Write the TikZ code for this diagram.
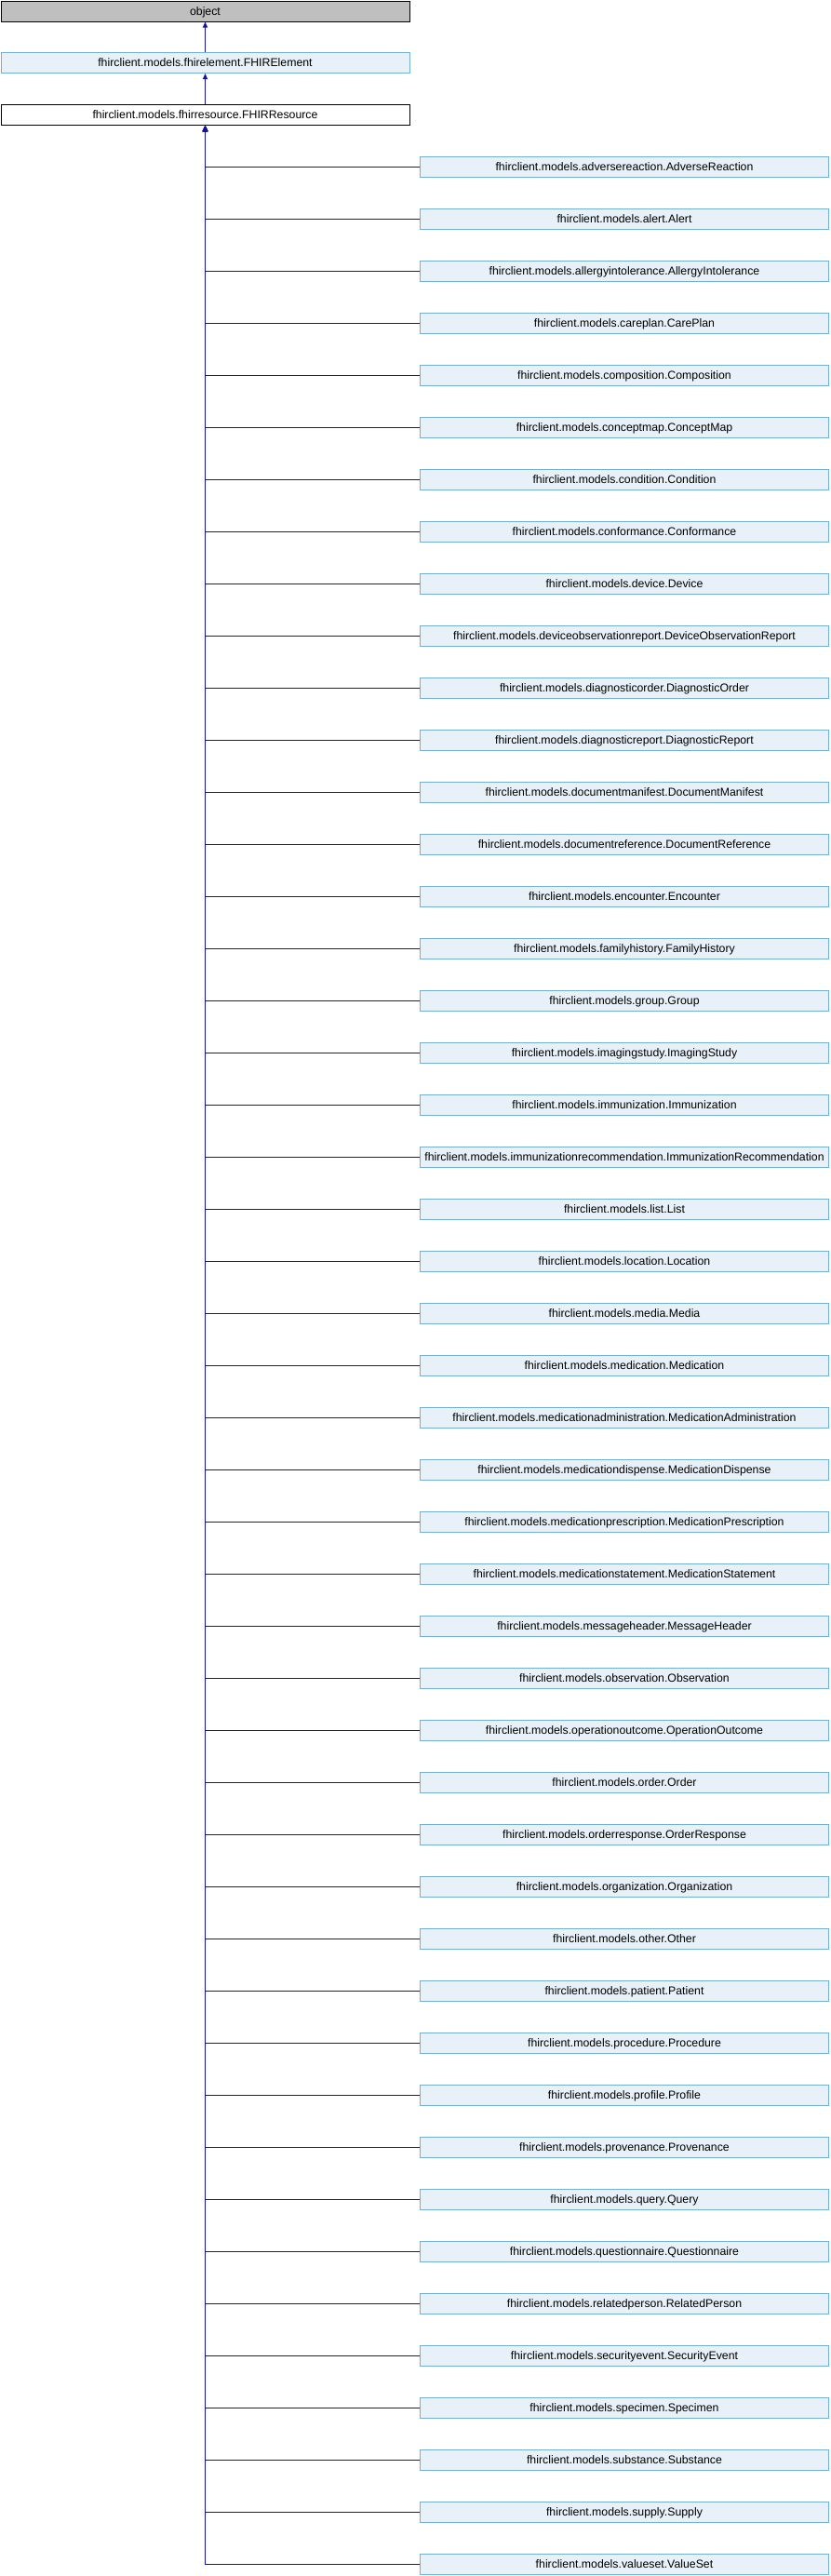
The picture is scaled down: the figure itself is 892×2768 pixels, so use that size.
\documentclass[tikz,border=0pt]{standalone}
\usepackage{fontspec}
\setmainfont{Liberation Sans}
\usetikzlibrary{arrows.meta}
\definecolor{edgeblue}{RGB}{20,20,150}
\definecolor{docfill}{RGB}{232,241,248}
\definecolor{docline}{RGB}{115,175,215}
\definecolor{focusfill}{RGB}{191,191,191}
\begin{document}
\begin{tikzpicture}[x=1pt,y=-1pt,
  cls/.style={rectangle, minimum width=439pt, minimum height=22pt, inner sep=0pt,
    line width=1pt, font=\fontsize{12.3}{14}\selectfont, text height=8.8pt, text depth=0pt},
  focus/.style={cls, draw=black, fill=focusfill},
  plain/.style={cls, draw=black, fill=white},
  doc/.style={cls, draw=docline, fill=docfill},
  edge/.style={draw=edgeblue, line width=1.1pt, -{Triangle[length=6pt,width=5pt]}}]
\useasboundingbox (0,0) rectangle (892,2768);
\node[focus] (obj) at (220.5,12) {object};
\node[doc] (fe) at (220.5,67.5) {fhirclient.models.fhirelement.FHIRElement};
\node[plain] (fr) at (220.5,123.5) {fhirclient.models.fhirresource.FHIRResource};
\draw[edge] (fe.north) -- (obj.south);
\draw[edge] (fr.north) -- (fe.south);
\foreach \m [count=\i from 0] in {adversereaction.AdverseReaction, alert.Alert,
  allergyintolerance.AllergyIntolerance, careplan.CarePlan, composition.Composition,
  conceptmap.ConceptMap, condition.Condition, conformance.Conformance, device.Device,
  deviceobservationreport.DeviceObservationReport, diagnosticorder.DiagnosticOrder,
  diagnosticreport.DiagnosticReport, documentmanifest.DocumentManifest,
  documentreference.DocumentReference, encounter.Encounter, familyhistory.FamilyHistory,
  group.Group, imagingstudy.ImagingStudy, immunization.Immunization,
  immunizationrecommendation.ImmunizationRecommendation, list.List, location.Location,
  media.Media, medication.Medication, medicationadministration.MedicationAdministration,
  medicationdispense.MedicationDispense, medicationprescription.MedicationPrescription,
  medicationstatement.MedicationStatement, messageheader.MessageHeader,
  observation.Observation, operationoutcome.OperationOutcome, order.Order,
  orderresponse.OrderResponse, organization.Organization, other.Other, patient.Patient,
  procedure.Procedure, profile.Profile, provenance.Provenance, query.Query,
  questionnaire.Questionnaire, relatedperson.RelatedPerson, securityevent.SecurityEvent,
  specimen.Specimen, substance.Substance, supply.Supply, valueset.ValueSet} {
  \node[doc] (c\i) at (671,{179.5+56*\i}) {fhirclient.models.\m};
  \draw[edge] (c\i.west) -| (fr.south);
}
\end{tikzpicture}
\end{document}
